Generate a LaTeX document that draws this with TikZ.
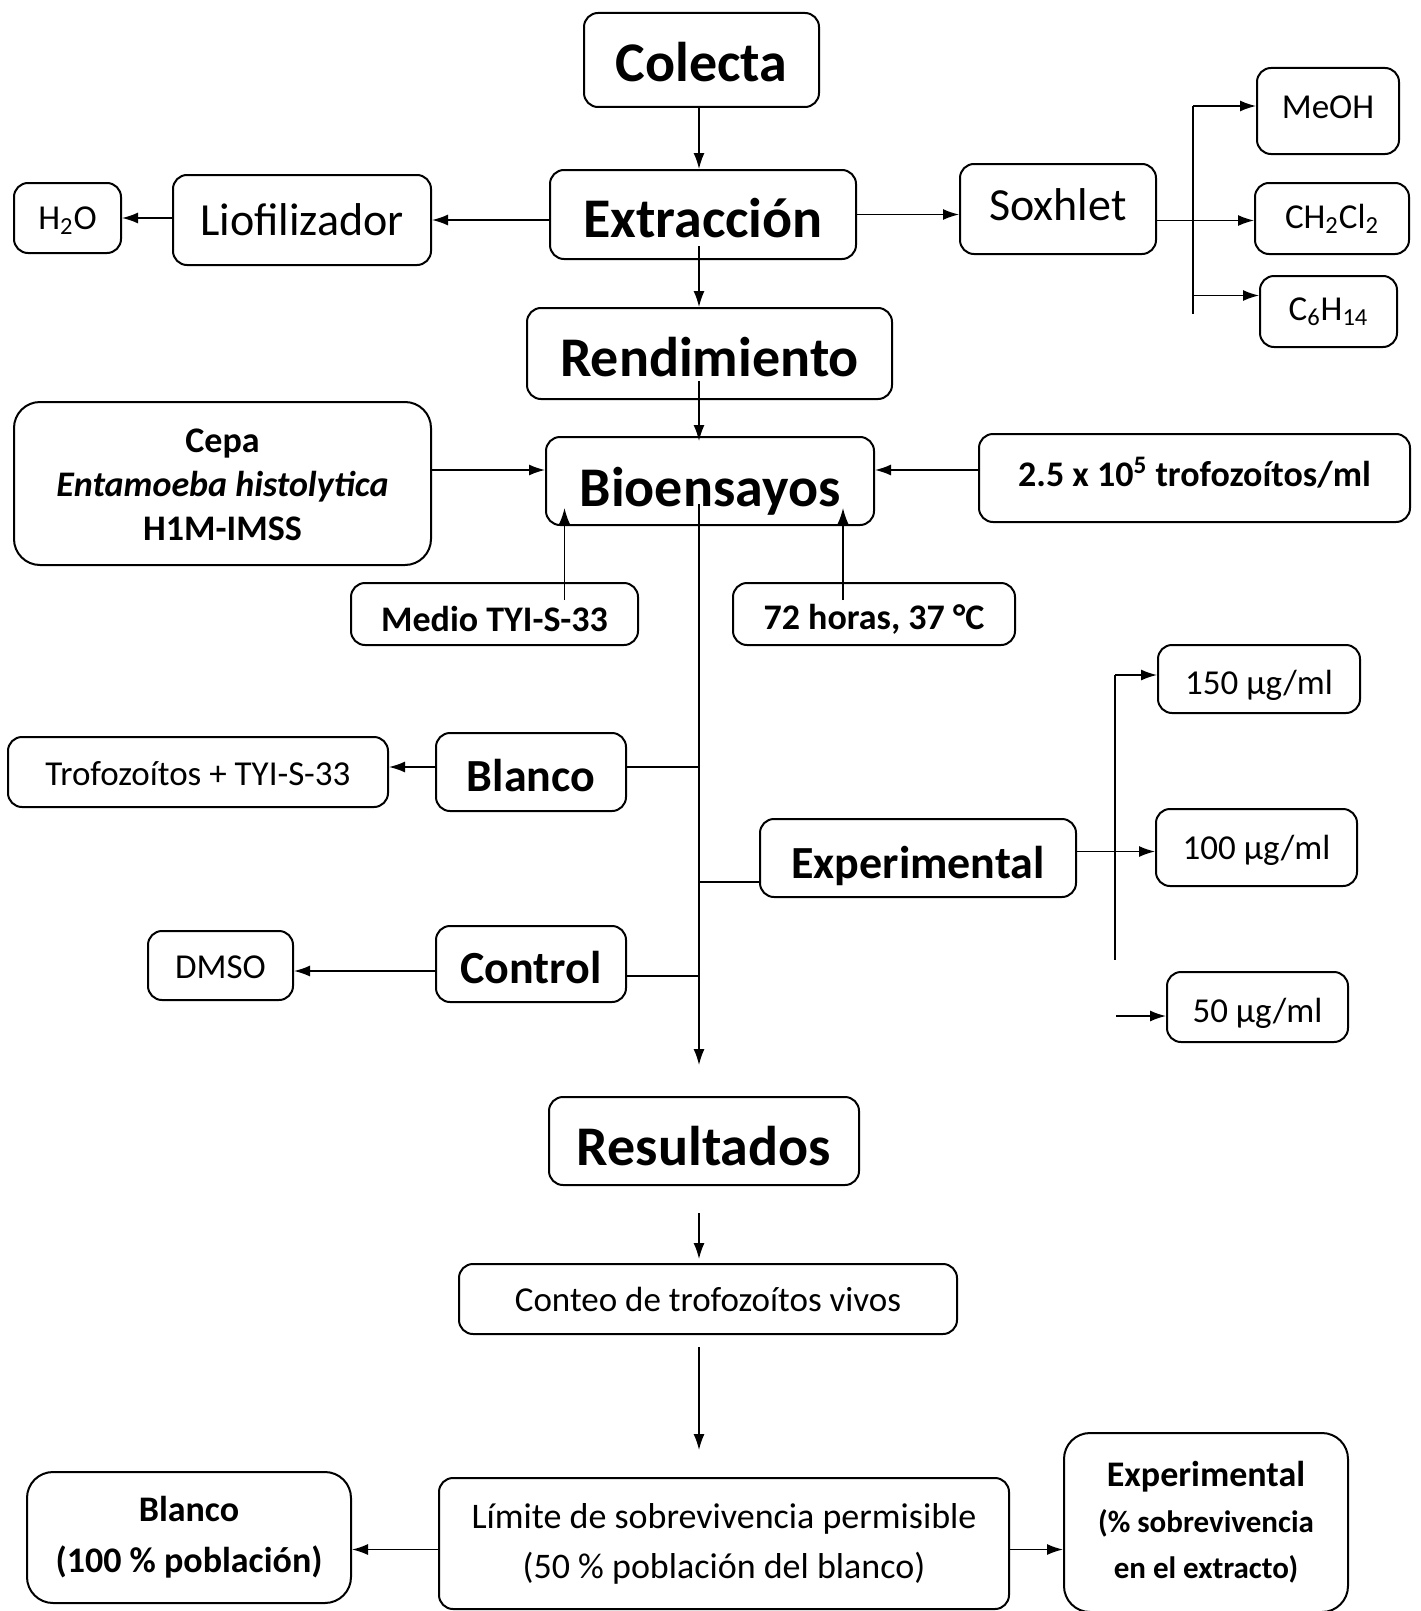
\documentclass[tikz,border=0pt]{standalone}
\usepackage{fontspec}
\setmainfont{Carlito}
\usetikzlibrary{arrows.meta,calc}

\newcommand\nudge[2]{\raisebox{#1}[\height][\depth]{#2}}

\tikzset{box/.style={draw, rounded corners=7pt, line width=1pt, align=center, inner sep=0pt},
         roundbox/.style={box, rounded corners=13pt},
         huge/.style={font=\fontsize{28}{32}\selectfont\bfseries},
         mid/.style={font=\fontsize{23}{27}\selectfont},
         midbf/.style={font=\fontsize{23}{27}\selectfont\bfseries},
         small/.style={font=\fontsize{17.5}{21}\selectfont},
         smallbf/.style={font=\fontsize{18}{22}\selectfont\bfseries},
         arrow/.style={-{Latex[length=8pt,width=5.5pt]}, line width=0.75pt},
         link/.style={line width=0.75pt}}

\begin{document}
\begin{tikzpicture}[x=0.5pt, y=-0.5pt]
  \useasboundingbox (0,0) rectangle (1420,1611);
  % main column
  \node[box, huge, minimum width=117.5pt, minimum height=47pt] (colecta) at (701.5,60) {\nudge{-1pt}{Colecta}};
  \node[box, huge, minimum width=153pt, minimum height=44.5pt] (extraccion) at (703,214.5) {\nudge{-2pt}{Extracción}};
  \node[box, huge, minimum width=182.5pt, minimum height=45.5pt] (rendimiento) at (709.5,353.5) {\nudge{-2pt}{Rendimiento}};
  \node[box, huge, minimum width=164pt, minimum height=44pt] (bioensayos) at (710,481) {\nudge{-5pt}{Bioensayos}};
  \node[box, huge, minimum width=155pt, minimum height=44pt] (resultados) at (704,1141) {\nudge{-2.5pt}{Resultados}};
  \node[box, small, minimum width=249pt, minimum height=35pt] (conteo) at (708,1299) {Conteo de trofozoítos vivos};
  \node[box, small, minimum width=285pt, minimum height=65.5pt,
    font=\fontsize{18}{25}\selectfont] (limite) at (724,1543.5)
    {Límite de sobrevivencia permisible\\(50 \% población del blanco)};

  % extraction branches
  \node[box, mid, minimum width=129pt, minimum height=45pt] (liof) at (302,220) {Liofilizador};
  \node[box, small, minimum width=53.5pt, minimum height=35pt] (h2o) at (67.5,218) {\nudge{-1.5pt}{H\textsubscript{2}O}};
  \node[box, mid, minimum width=98pt, minimum height=45pt] (soxhlet) at (1058,209) {\raisebox{4pt}{Soxhlet}};
  \node[box, small, minimum width=71pt, minimum height=43pt] (meoh) at (1328,111) {\raisebox{4pt}{MeOH}};
  \node[box, small, minimum width=77pt, minimum height=35.5pt] (ch2cl2) at (1332,218.5) {CH\textsubscript{2}Cl\textsubscript{2}};
  \node[box, small, minimum width=68.5pt, minimum height=35.5pt] (c6h14) at (1328.5,311.5) {C\textsubscript{6}H\textsubscript{14}};

  % bioassay inputs
  \node[roundbox, smallbf, minimum width=208.5pt, minimum height=81.5pt] (cepa) at (222.5,483.5)
    {\nudge{-2pt}{\begin{tabular}{@{}c@{}}Cepa\\\textit{Entamoeba histolytica}\\H1M-IMSS\end{tabular}}};
  \node[box, smallbf, minimum width=215.5pt, minimum height=44pt] (densidad) at (1194.5,478)
    {\raisebox{6pt}{2.5 x 10\textsuperscript{5} trofozoítos/ml}};
  \node[box, smallbf, minimum width=143.5pt, minimum height=31pt] (medio) at (494.5,614) {\nudge{-2.5pt}{Medio TYI-S-33}};
  \node[box, smallbf, minimum width=141pt, minimum height=31pt] (tiempo) at (874,614) {\nudge{-2.5pt}{72 horas, 37 °C}};

  % groups
  \node[box, midbf, minimum width=95pt, minimum height=39pt] (blanco) at (531,772) {\nudge{-2pt}{Blanco}};
  \node[box, small, minimum width=190pt, minimum height=35pt] (trofo) at (198,772) {\nudge{-1pt}{Trofozoítos + TYI-S-33}};
  \node[box, midbf, minimum width=158pt, minimum height=39pt] (experimental) at (918,858) {\nudge{-4pt}{Experimental}};
  \node[box, midbf, minimum width=95pt, minimum height=38pt] (control) at (531,964) {\nudge{-2pt}{Control}};
  \node[box, small, minimum width=72.5pt, minimum height=34.5pt] (dmso) at (220.5,965.5) {\nudge{-1pt}{DMSO}};
  \node[box, small, minimum width=101pt, minimum height=34pt] (c150) at (1259,679) {\nudge{-3pt}{150 µg/ml}};
  \node[box, small, minimum width=100.5pt, minimum height=38.5pt] (c100) at (1256.5,847.5) {\nudge{-1.5pt}{100 µg/ml}};
  \node[box, small, minimum width=90.5pt, minimum height=35pt] (c50) at (1257.5,1007) {\nudge{-3pt}{50 µg/ml}};

  % results
  \node[roundbox, smallbf, minimum width=162pt, minimum height=65.5pt,
    font=\fontsize{18}{25.5}\selectfont\bfseries] (blanco100) at (189,1537.5)
    {Blanco\\(100 \% población)};
  \node[roundbox, minimum width=142pt, minimum height=89.5pt,
    font=\fontsize{15.5}{23}\selectfont\bfseries] (experimental100) at (1206,1522.5)
    {{\fontsize{18}{23}\selectfont Experimental}\\(\% sobrevivencia\\en el extracto)};

  \coordinate (spine) at (699,0);
  \coordinate (sbranch) at (1193,0);
  \coordinate (ebranch) at (1115,0);

  % connectors
  \draw[arrow] (colecta.south -| spine) -- (extraccion.north -| spine);
  \draw[arrow] (extraccion.west |- liof.east) -- (liof.east);
  \draw[arrow] (liof.west |- h2o.east) -- (h2o.east);
  \draw[arrow] (extraccion.east) -- (extraccion.east -| soxhlet.west);
  \draw[arrow] ($(soxhlet.east |- ch2cl2.west)+(0,2)$) -- ($(ch2cl2.west)+(0,2)$);
  \draw[link] ($(sbranch |- meoh.west)+(0,-5)$) -- ($(sbranch |- c6h14.south)+(0,-34)$);
  \draw[arrow] ($(sbranch |- meoh.west)+(0,-5)$) -- ($(meoh.west)+(0,-5)$);
  \draw[arrow] ($(sbranch |- c6h14.west)+(0,-16)$) -- ($(c6h14.west)+(0,-16)$);
  \draw[arrow] ($(extraccion.south -| spine)+(0,-14)$) -- (rendimiento.north -| spine);
  \draw[arrow] ($(rendimiento.south -| spine)+(0,-19)$) -- ($(bioensayos.north -| spine)+(0,5)$);

  \coordinate (bin) at ($(bioensayos.west)+(0,-11)$);
  \coordinate (bout) at ($(bioensayos.east)+(0,-11)$);
  \coordinate (bup) at ($(bioensayos.south)+(0,-18)$);
  \draw[arrow] (cepa.east |- bin) -- (bin);
  \draw[arrow] (densidad.west |- bout) -- (bout);
  \draw[arrow] ($(medio.north)+(70,18)$) coordinate (m1) -- (m1 |- bup);
  \draw[arrow] ($(tiempo.north)+(-31,18)$) coordinate (t1) -- (t1 |- bup);

  \draw[arrow] ($(bioensayos.south -| spine)+(0,-22)$) -- ($(resultados.north -| spine)+(0,-31)$);
  \draw[link] ([yshift=2.5pt]blanco.east) -- ([yshift=2.5pt]blanco.east -| spine);
  \draw[arrow] ([yshift=2.5pt]blanco.west) -- ([yshift=2.5pt]trofo.east);
  \draw[link] ([yshift=8pt]experimental.south west) coordinate (e1) -- (e1 -| spine);
  \draw[link] ([yshift=-6pt]control.east) -- ([yshift=-6pt]control.east -| spine);
  \draw[arrow] ([yshift=-3.5pt]control.west) -- ([yshift=-3.5pt]control.west -| dmso.east);

  \draw[arrow] ($(experimental.east |- c100.west)+(0,4)$) -- ($(c100.west)+(0,4)$);
  \draw[link] ($(ebranch |- c150.west)+(0,-4)$) -- ($(ebranch |- c50.north)+(0,-11)$);
  \draw[arrow] ($(ebranch |- c150.west)+(0,-4)$) -- ($(c150.west)+(0,-4)$);
  \draw[arrow] ($(c50.west)+(-50,9)$) -- ($(c50.west)+(0,9)$);

  \draw[arrow] ($(resultados.south -| spine)+(0,27)$) -- ($(conteo.north -| spine)+(0,-4)$);
  \draw[arrow] ($(conteo.south -| spine)+(0,12)$) -- ($(limite.north -| spine)+(0,-27)$);
  \draw[arrow] ([yshift=-3pt]limite.west) -- ([yshift=-3pt]limite.west -| blanco100.east);
  \draw[arrow] ([yshift=-3pt]limite.east) -- ([yshift=-3pt]limite.east -| experimental100.west);
\end{tikzpicture}
\end{document}
